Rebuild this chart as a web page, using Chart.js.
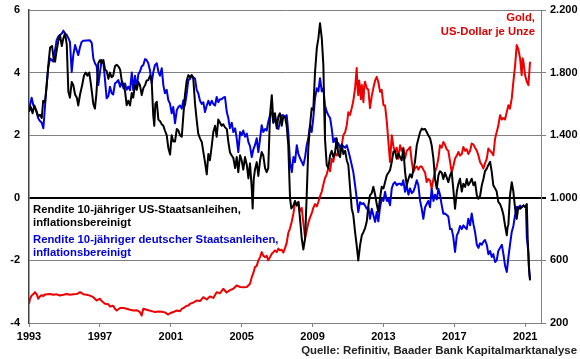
<!DOCTYPE html>
<html><head><meta charset="utf-8">
<script src="https://cdn.jsdelivr.net/npm/chart.js@4"></script>
<style>html,body{margin:0;padding:0;background:#fff}#wrap{width:580px;height:359px;position:relative}</style>
</head><body><div id="wrap"><canvas id="c" width="580" height="359"></canvas></div>
<script>
// US 10y real yield (left axis, %)
const usYears=[1993.00,1993.10,1993.20,1993.30,1993.40,1993.52,1993.62,1993.72,1993.80,1993.90,1994.00,1994.10,1994.19,1994.30,1994.40,1994.47,1994.56,1994.65,1994.75,1994.85,1994.94,1995.03,1995.13,1995.22,1995.31,1995.41,1995.50,1995.60,1995.70,1995.78,1995.88,1996.00,1996.10,1996.20,1996.30,1996.40,1996.50,1996.63,1996.72,1996.80,1996.91,1997.01,1997.10,1997.20,1997.29,1997.38,1997.48,1997.57,1997.66,1997.75,1997.85,1997.95,1998.04,1998.14,1998.23,1998.33,1998.42,1998.51,1998.60,1998.70,1998.80,1998.88,1998.98,1999.08,1999.17,1999.26,1999.36,1999.45,1999.55,1999.64,1999.73,1999.83,1999.92,2000.01,2000.07,2000.13,2000.21,2000.30,2000.39,2000.49,2000.58,2000.67,2000.77,2000.86,2000.96,2001.05,2001.14,2001.24,2001.34,2001.43,2001.52,2001.62,2001.71,2001.80,2001.90,2001.99,2002.09,2002.18,2002.27,2002.37,2002.46,2002.55,2002.65,2002.75,2002.84,2002.93,2003.03,2003.12,2003.21,2003.31,2003.40,2003.50,2003.59,2003.68,2003.78,2003.87,2003.96,2004.06,2004.16,2004.25,2004.34,2004.44,2004.53,2004.63,2004.72,2004.81,2004.91,2005.00,2005.09,2005.19,2005.29,2005.38,2005.47,2005.57,2005.62,2005.68,2005.75,2005.85,2005.94,2006.04,2006.13,2006.22,2006.32,2006.41,2006.50,2006.60,2006.70,2006.79,2006.88,2006.98,2007.07,2007.16,2007.26,2007.35,2007.45,2007.54,2007.63,2007.73,2007.80,2007.92,2008.01,2008.11,2008.20,2008.29,2008.39,2008.48,2008.58,2008.67,2008.76,2008.86,2008.95,2009.04,2009.14,2009.24,2009.33,2009.42,2009.52,2009.61,2009.66,2009.70,2009.80,2009.89,2009.99,2010.08,2010.17,2010.27,2010.36,2010.45,2010.55,2010.65,2010.74,2010.84,2010.93,2011.02,2011.12,2011.21,2011.30,2011.40,2011.49,2011.58,2011.68,2011.78,2011.87,2011.96,2012.06,2012.15,2012.24,2012.34,2012.43,2012.53,2012.62,2012.71,2012.81,2012.90,2013.00,2013.09,2013.19,2013.28,2013.37,2013.47,2013.56,2013.65,2013.75,2013.84,2013.94,2014.03,2014.12,2014.22,2014.31,2014.41,2014.50,2014.60,2014.69,2014.78,2014.88,2014.97,2015.07,2015.16,2015.25,2015.35,2015.44,2015.53,2015.63,2015.72,2015.82,2015.91,2016.01,2016.10,2016.19,2016.29,2016.38,2016.47,2016.57,2016.66,2016.76,2016.85,2016.94,2017.04,2017.14,2017.23,2017.32,2017.42,2017.51,2017.61,2017.70,2017.79,2017.89,2017.98,2018.08,2018.17,2018.27,2018.36,2018.45,2018.55,2018.64,2018.73,2018.83,2018.92,2019.02,2019.11,2019.20,2019.30,2019.39,2019.48,2019.58,2019.68,2019.77,2019.86,2019.96,2020.00,2020.05,2020.14,2020.24,2020.33,2020.43,2020.52,2020.61,2020.71,2020.80,2020.90,2020.99,2021.09,2021.14,2021.20,2021.27];
const usYield=[2.75,2.9,2.7,2.95,2.8,2.6,2.65,2.55,3.1,3.05,3.6,4.3,4.8,4.85,4.4,4.35,4.7,5.0,5.2,4.85,5.1,5.25,4.9,3.4,3.2,3.7,3.6,3.3,3.2,2.95,3.3,3.6,3.9,4.0,3.9,4.0,3.6,3.0,2.85,3.3,4.3,4.4,4.3,4.4,4.1,4.05,3.8,4.0,3.85,3.9,4.2,4.25,4.2,4.1,3.75,3.6,3.4,2.96,3.1,2.95,3.35,3.2,3.6,3.45,3.7,3.6,3.28,3.5,3.6,3.75,3.76,3.9,3.75,2.64,2.3,3.0,3.07,2.5,2.45,2.35,2.3,2.15,2.0,1.6,1.38,2.0,1.8,1.8,2.2,2.15,2.0,1.95,2.64,3.28,3.75,3.92,3.85,3.92,3.8,3.0,2.5,2.05,1.9,1.78,1.46,1.14,0.75,1.4,1.2,1.65,2.1,2.3,1.95,2.5,2.4,2.3,2.35,2.25,2.2,1.78,1.45,1.35,1.27,0.95,1.3,0.82,1.36,1.2,0.9,1.3,1.05,0.62,1.1,0.3,-0.34,0.6,0.9,1.14,0.7,1.2,1.46,1.35,0.95,0.82,0.95,2.64,3.28,2.4,2.7,2.22,2.6,2.7,2.3,2.6,2.58,2.3,1.68,-0.02,-0.34,-0.25,-0.1,-0.25,-0.14,-0.66,-1.3,-1.65,-1.3,0.08,1.58,2.32,2.86,2.8,4.02,4.78,5.1,5.58,5.1,4.24,2.8,1.9,1.04,0.95,1.36,1.5,1.3,1.45,1.9,1.4,1.3,1.7,1.4,1.5,1.2,1.04,0.3,-0.34,-0.56,-1.1,-1.52,-2.0,-1.52,-1.2,-1.1,-0.98,-0.75,-0.24,0.08,0.15,0.35,0.1,-0.2,-0.45,0.0,0.35,0.3,0.5,0.72,0.8,0.88,1.15,1.47,1.5,1.25,1.4,1.3,1.2,1.57,0.83,0.4,0.6,0.75,0.65,0.9,1.15,1.68,1.89,2.1,2.21,2.18,2.2,2.1,2.0,1.9,1.68,1.25,0.61,0.29,0.72,0.85,0.8,0.6,0.8,0.65,0.5,0.72,0.83,0.29,-0.35,0.2,0.45,0.61,0.2,0.45,0.35,0.6,0.4,0.5,0.61,0.4,0.5,0.08,-0.03,0.05,0.4,0.6,0.85,0.93,1.05,1.15,0.83,0.4,0.3,0.2,-0.13,-0.2,-0.35,-0.55,-0.88,-1.2,-0.95,-0.85,0.08,0.5,0.2,-0.35,-0.67,-0.3,-0.35,-0.3,-0.24,-0.3,-0.2,-1.3,-2.16,-2.64];

// German 10y real yield (left axis, %)
const deYears=[1993.00,1993.15,1993.25,1993.40,1993.52,1993.62,1993.72,1993.81,1993.90,1994.00,1994.09,1994.19,1994.28,1994.37,1994.47,1994.56,1994.65,1994.75,1994.85,1994.94,1995.03,1995.13,1995.22,1995.31,1995.41,1995.50,1995.60,1995.70,1995.78,1995.88,1995.97,1996.06,1996.44,1996.54,1996.63,1996.72,1996.82,1996.91,1997.01,1997.10,1997.20,1997.29,1997.38,1997.48,1997.57,1997.66,1997.75,1997.85,1997.95,1998.04,1998.14,1998.23,1998.33,1998.42,1998.51,1998.60,1998.70,1998.80,1998.88,1998.98,1999.08,1999.17,1999.26,1999.36,1999.45,1999.55,1999.64,1999.73,1999.83,1999.92,2000.01,2000.11,2000.21,2000.30,2000.39,2000.49,2000.58,2000.67,2000.77,2000.86,2000.96,2001.05,2001.14,2001.24,2001.34,2001.43,2001.52,2001.62,2001.71,2001.80,2001.90,2001.99,2002.09,2002.18,2002.27,2002.37,2002.46,2002.55,2002.65,2002.75,2002.84,2002.93,2003.03,2003.12,2003.21,2003.31,2003.40,2003.50,2003.59,2003.68,2003.78,2003.87,2003.96,2004.06,2004.16,2004.25,2004.34,2004.44,2004.53,2004.63,2004.72,2004.81,2004.91,2005.00,2005.09,2005.19,2005.29,2005.38,2005.47,2005.57,2005.66,2005.75,2005.85,2005.94,2006.04,2006.13,2006.22,2006.32,2006.41,2006.50,2006.60,2006.70,2006.79,2006.88,2006.98,2007.07,2007.16,2007.26,2007.35,2007.45,2007.54,2007.63,2007.73,2007.83,2007.92,2008.01,2008.11,2008.20,2008.29,2008.39,2008.48,2008.58,2008.67,2008.76,2008.86,2008.95,2009.04,2009.14,2009.24,2009.33,2009.42,2009.52,2009.61,2009.70,2009.80,2009.89,2009.99,2010.08,2010.17,2010.27,2010.36,2010.45,2010.55,2010.65,2010.74,2010.84,2010.93,2011.02,2011.12,2011.21,2011.30,2011.40,2011.49,2011.58,2011.68,2011.78,2011.87,2011.96,2012.06,2012.15,2012.24,2012.34,2012.43,2012.53,2012.62,2012.71,2012.81,2012.90,2013.00,2013.09,2013.19,2013.28,2013.37,2013.47,2013.56,2013.65,2013.75,2013.84,2013.94,2014.03,2014.12,2014.22,2014.31,2014.41,2014.50,2014.60,2014.69,2014.78,2014.88,2014.97,2015.07,2015.16,2015.25,2015.35,2015.44,2015.53,2015.63,2015.72,2015.82,2015.91,2016.01,2016.10,2016.19,2016.29,2016.38,2016.47,2016.57,2016.66,2016.76,2016.85,2016.94,2017.04,2017.14,2017.23,2017.32,2017.42,2017.51,2017.61,2017.70,2017.79,2017.89,2017.98,2018.08,2018.17,2018.27,2018.36,2018.45,2018.55,2018.64,2018.73,2018.83,2018.92,2019.02,2019.11,2019.20,2019.30,2019.39,2019.48,2019.58,2019.68,2019.77,2019.86,2019.96,2020.05,2020.14,2020.24,2020.33,2020.43,2020.52,2020.61,2020.71,2020.80,2020.90,2020.99,2021.04,2021.09,2021.18,2021.23,2021.27];
const deYield=[2.8,3.2,2.95,2.8,2.54,2.45,2.4,2.22,2.9,3.65,4.18,4.45,4.4,4.35,4.72,5.04,5.15,5.2,5.25,5.34,5.25,5.2,5.1,4.98,4.02,4.56,4.88,4.7,4.56,4.82,4.98,5.02,5.03,4.95,4.45,4.3,4.2,3.6,4.03,4.4,4.3,3.76,3.18,3.25,3.55,3.35,3.3,3.65,3.7,3.76,3.55,3.7,3.5,3.65,3.45,3.55,3.44,4.0,3.44,3.9,3.5,3.95,4.03,4.2,4.24,4.43,4.4,4.3,4.06,3.66,4.0,4.24,4.3,4.03,3.9,4.14,3.6,3.34,3.45,3.12,3.0,2.7,2.9,2.38,2.8,2.9,2.95,2.85,3.12,2.95,3.34,3.76,3.8,3.92,3.85,3.8,3.45,3.34,3.1,3.0,3.05,2.74,2.95,3.1,2.96,3.1,3.0,2.95,3.22,3.05,3.15,3.15,3.2,3.22,2.74,2.54,2.22,2.4,2.1,2.22,1.9,1.46,2.1,2.0,2.15,1.95,2.05,1.78,1.65,1.3,1.55,1.68,1.9,1.46,1.9,2.32,2.1,2.2,2.15,2.42,2.64,2.74,2.4,2.6,2.3,2.2,2.42,2.64,2.64,2.58,2.64,2.1,1.14,0.82,1.3,1.14,1.68,1.4,1.27,1.15,1.04,1.3,1.68,1.9,2.32,2.1,2.54,3.18,3.5,3.4,3.82,3.4,3.5,2.96,2.75,2.64,2.55,2.22,1.78,1.9,1.6,1.75,1.6,1.7,1.65,1.6,1.68,1.5,1.27,1.05,0.82,0.4,0.0,-0.46,-0.14,-0.2,-0.17,-0.25,-0.35,-0.3,-0.67,-0.35,-0.55,-0.77,-0.45,-0.75,-0.3,-0.03,-0.1,0.19,-0.1,-0.05,-0.24,0.3,0.45,0.5,0.4,0.45,0.45,0.4,0.56,0.19,0.4,0.1,0.3,0.15,0.2,0.35,0.56,0.4,-0.1,-0.35,-0.67,-0.3,-0.2,-0.1,-0.3,0.29,-0.1,0.1,-0.05,0.29,0.1,-0.24,-0.51,-0.5,-0.55,-0.6,-1.0,-1.0,-1.25,-1.73,-1.2,-1.1,-0.9,-1.0,-0.88,-0.95,-1.0,-0.67,-0.88,-0.5,-0.85,-1.1,-1.5,-1.6,-1.45,-1.5,-1.4,-1.35,-1.5,-1.8,-1.7,-1.89,-1.8,-2.05,-2.0,-1.7,-1.6,-1.5,-1.8,-2.16,-2.37,-1.9,-1.5,-1.09,-0.9,-0.55,-0.29,-0.32,-0.25,-0.3,-0.25,-0.28,-0.3,-1.28,-1.75,-2.4,-2.58];

// Gold, US-Dollar per ounce (right axis)
const goldYears=[1993.00,1993.06,1993.15,1993.25,1993.34,1993.45,1993.52,1993.62,1993.72,1993.81,1993.90,1994.19,1994.37,1994.56,1994.75,1994.94,1995.13,1995.31,1995.50,1995.69,1995.88,1996.06,1996.26,1996.44,1996.63,1996.82,1997.01,1997.10,1997.29,1997.48,1997.57,1997.75,1997.85,1997.95,1998.14,1998.33,1998.51,1998.70,1998.89,1999.08,1999.26,1999.36,1999.45,1999.64,1999.73,1999.92,2000.11,2000.30,2000.49,2000.67,2000.86,2000.96,2001.14,2001.34,2001.52,2001.62,2001.71,2001.90,2001.99,2002.09,2002.27,2002.46,2002.65,2002.84,2003.03,2003.21,2003.40,2003.59,2003.78,2003.96,2004.15,2004.34,2004.53,2004.72,2004.91,2005.09,2005.29,2005.47,2005.57,2005.66,2005.75,2005.85,2005.94,2006.04,2006.13,2006.22,2006.32,2006.41,2006.50,2006.60,2006.70,2006.79,2006.88,2006.98,2007.07,2007.16,2007.26,2007.35,2007.45,2007.54,2007.63,2007.73,2007.83,2007.92,2008.01,2008.11,2008.20,2008.29,2008.39,2008.48,2008.58,2008.67,2008.76,2008.86,2008.95,2009.04,2009.14,2009.24,2009.33,2009.42,2009.52,2009.61,2009.70,2009.80,2009.89,2009.99,2010.08,2010.17,2010.27,2010.36,2010.45,2010.55,2010.65,2010.74,2010.84,2010.93,2011.02,2011.12,2011.21,2011.30,2011.40,2011.49,2011.54,2011.58,2011.63,2011.68,2011.73,2011.78,2011.87,2011.92,2011.96,2012.06,2012.15,2012.24,2012.34,2012.43,2012.53,2012.62,2012.71,2012.81,2012.90,2013.00,2013.09,2013.19,2013.28,2013.37,2013.47,2013.56,2013.65,2013.75,2013.84,2013.94,2014.03,2014.12,2014.22,2014.31,2014.41,2014.50,2014.60,2014.69,2014.78,2014.88,2014.97,2015.07,2015.16,2015.25,2015.35,2015.44,2015.53,2015.63,2015.72,2015.82,2015.91,2016.01,2016.10,2016.19,2016.29,2016.38,2016.47,2016.57,2016.66,2016.76,2016.85,2016.94,2017.04,2017.14,2017.23,2017.32,2017.42,2017.51,2017.61,2017.70,2017.79,2017.89,2017.98,2018.08,2018.17,2018.27,2018.36,2018.45,2018.55,2018.64,2018.73,2018.83,2018.92,2019.02,2019.11,2019.20,2019.30,2019.39,2019.48,2019.58,2019.68,2019.77,2019.86,2019.96,2020.05,2020.14,2020.24,2020.33,2020.43,2020.52,2020.61,2020.71,2020.80,2020.85,2020.90,2020.99,2021.09,2021.18,2021.27];
const goldPrice=[323,355,376,385,397,380,355,370,378,372,382,385,380,383,376,380,385,380,384,385,397,384,380,375,365,344,355,340,323,320,305,310,291,280,296,296,291,285,280,282,270,248,291,285,282,276,270,274,272,268,254,262,270,280,275,291,295,310,312,323,330,344,340,365,350,370,360,397,390,419,395,410,419,440,430,429,430,451,493,520,557,565,600,621,653,630,621,630,600,621,643,653,664,653,675,664,668,650,680,712,775,805,850,900,970,955,975,915,935,840,745,790,840,875,900,935,960,945,975,1010,1040,1085,1125,1150,1190,1170,1250,1230,1290,1270,1280,1310,1340,1400,1420,1464,1547,1530,1573,1620,1700,1829,1700,1656,1750,1700,1630,1720,1611,1720,1741,1700,1690,1573,1650,1701,1750,1773,1740,1677,1690,1592,1590,1485,1357,1229,1400,1330,1293,1320,1250,1336,1300,1320,1251,1300,1310,1325,1230,1165,1190,1200,1180,1200,1200,1180,1160,1101,1120,1110,1059,1120,1165,1200,1251,1336,1320,1357,1340,1310,1300,1229,1165,1200,1251,1270,1293,1270,1280,1325,1300,1310,1280,1300,1347,1340,1320,1300,1270,1229,1210,1187,1220,1250,1315,1300,1290,1272,1379,1421,1460,1528,1500,1510,1500,1549,1592,1570,1635,1741,1848,1976,1950,1891,1784,1891,1870,1784,1741,1720,1869];

const xTickYears=[1993,1997,2001,2005,2009,2013,2017,2021];
const leftTicks=[-4,-2,0,2,4,6];
const rightTicks=[200,600,1000,1400,1800,2200];

const FONT="'Liberation Sans', Arial, sans-serif";
const toPts=(xs,ys)=>xs.map((x,i)=>({x:x,y:ys[i]}));
const fmtDE=v=>String(v).replace(/\B(?=(\d{3})+(?!\d))/g,'.');
const noPad=s=>{s.paddingTop=0;s.paddingBottom=0;s.paddingLeft=0;s.paddingRight=0;};

const notes={
  id:'notes',
  afterDraw(chart){
    const c=chart.ctx, a=chart.chartArea;
    c.save();
    c.font='bold 11.3px '+FONT;
    c.textBaseline='middle';
    c.textAlign='left';
    c.fillStyle='#000';
    c.fillText('Rendite 10-jähriger US-Staatsanleihen,',a.left+4,210);
    c.fillText('inflationsbereinigt',a.left+4,223);
    c.fillStyle='#0000e0';
    c.fillText('Rendite 10-jähriger deutscher Staatsanleihen,',a.left+4,240);
    c.fillText('inflationsbereinigt',a.left+4,253);
    c.textAlign='right';
    c.fillStyle='#e00000';
    c.fillText('Gold,',a.right-6,18);
    c.fillText('US-Dollar je Unze',a.right-6,32);
    c.font='bold 11.4px '+FONT;
    c.fillStyle='#222';
    c.fillText('Quelle: Refinitiv, Baader Bank Kapitalmarktanalyse',577,351);
    c.restore();
  }
};

new Chart(document.getElementById('c'),{
  type:'line',
  data:{datasets:[
    {label:'US',data:toPts(usYears,usYield),borderColor:'#000',borderWidth:2,pointRadius:0,yAxisID:'y',order:0},
    {label:'DE',data:toPts(deYears,deYield),borderColor:'#0000e6',borderWidth:2,pointRadius:0,yAxisID:'y',order:1},
    {label:'Gold',data:toPts(goldYears,goldPrice),borderColor:'#ee0000',borderWidth:2,pointRadius:0,yAxisID:'y2',order:2}
  ]},
  options:{
    responsive:false,animation:false,
    layout:{autoPadding:false,padding:{top:10,left:0,right:0,bottom:0}},
    plugins:{legend:{display:false},tooltip:{enabled:false}},
    elements:{line:{tension:0,borderJoinStyle:'round'}},
    scales:{
      x:{type:'linear',min:1993,max:2021.89,
        afterBuildTicks:s=>{s.ticks=xTickYears.map(v=>({value:v}));},
        afterFit:s=>{s.height=36;noPad(s);},
        ticks:{callback:v=>String(v),font:{family:FONT,size:11,weight:'bold'},color:'#000',padding:3,maxRotation:0,autoSkip:false},
        grid:{drawOnChartArea:false,drawTicks:true,tickLength:4,color:'#808080'},
        border:{color:'#808080',width:1}},
      y:{position:'left',min:-4,max:6,
        afterBuildTicks:s=>{s.ticks=leftTicks.map(v=>({value:v}));},
        afterFit:s=>{s.width=29;noPad(s);},
        ticks:{font:{family:FONT,size:11,weight:'bold'},color:'#000',padding:9},
        grid:{drawTicks:false,color:c=>c.tick&&c.tick.value===0?'#000':'#808080',lineWidth:c=>c.tick&&c.tick.value===0?2:1},
        border:{color:'#404040',width:1.5}},
      y2:{position:'right',min:200,max:2200,
        afterBuildTicks:s=>{s.ticks=rightTicks.map(v=>({value:v}));},
        afterFit:s=>{s.width=39;noPad(s);},
        ticks:{callback:v=>fmtDE(v),font:{family:FONT,size:11,weight:'bold'},color:'#000',padding:4},
        grid:{drawOnChartArea:false,drawTicks:true,tickLength:5,color:c=>c.tick&&c.tick.value===1000?'#000':'#808080',lineWidth:c=>c.tick&&c.tick.value===1000?2:1},
        border:{color:'#808080',width:1}}
    }
  },
  plugins:[notes]
});
</script></body></html>
